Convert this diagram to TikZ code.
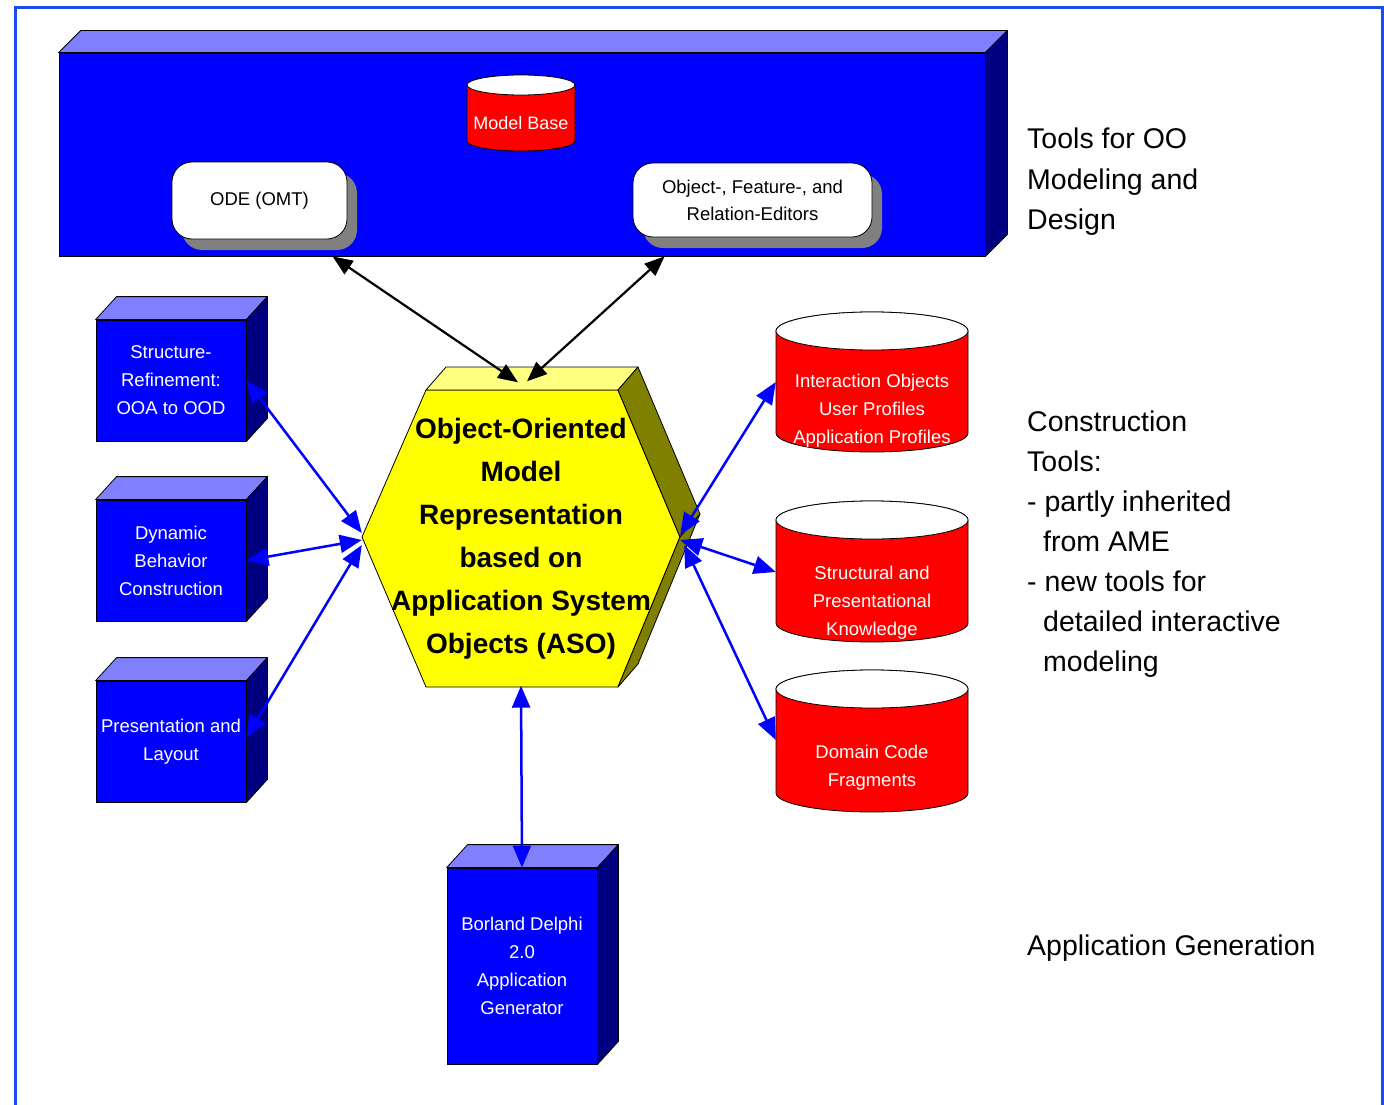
\documentclass[tikz,border=0pt]{standalone}
\usepackage{fontspec}
\setmainfont{Liberation Sans}
\usetikzlibrary{arrows.meta,calc,shadows}
\definecolor{fblue}{RGB}{0,0,255}
\definecolor{lblue}{RGB}{128,128,255}
\definecolor{navy}{RGB}{0,0,128}
\definecolor{fred}{RGB}{255,0,0}
\definecolor{fyellow}{RGB}{255,255,0}
\definecolor{lyellow}{RGB}{255,255,128}
\definecolor{folive}{RGB}{128,128,0}
\definecolor{sgray}{RGB}{128,128,128}
\definecolor{framecol}{RGB}{25,75,240}
\newcommand\boxsides[3]{%
  \filldraw[fill=lblue,line width=0.8pt,line join=round] (#1.north west) -- ++(#2,-#3) -- ($(#1.north east)+(#2,-#3)$) -- (#1.north east) -- cycle;
  \filldraw[fill=navy,line width=0.8pt,line join=round] (#1.north east) -- ++(#2,-#3) -- ($(#1.south east)+(#2,-#3)$) -- (#1.south east) -- cycle;}
\newcommand\cylshape[5]{%
  \filldraw[fill=fred,line width=0.8pt] (#1,#2) -- (#1,#3) arc[start angle=180,end angle=360,x radius=#4pt,y radius=#5pt] -- (#1+2*#4,#2) arc[start angle=0,end angle=180,x radius=#4pt,y radius=#5pt] -- cycle;
  \filldraw[fill=white,line width=0.8pt] (#1+#4,#2) ellipse[x radius=#4pt,y radius=#5pt];}
\begin{document}
\begin{tikzpicture}[x=1pt,y=-1pt,
  edge/.style={draw=black,line width=0.8pt},
  cube/.style={fill=fblue,draw=black,line width=0.8pt,minimum width=150pt,inner sep=0pt,text=white,align=center,font=\fontsize{18.5}{28}\selectfont},
  cyltext/.style={text=white,align=center,minimum width=192pt,inner sep=0pt,font=\fontsize{18.5}{28}\selectfont},
  roundbox/.style={fill=white,draw=black,line width=0.8pt,rounded corners=20pt,inner sep=0pt,align=center,font=\fontsize{18.5}{27}\selectfont,drop shadow={shadow xshift=10pt,shadow yshift=-11pt,fill=sgray,opacity=1}},
  sidetext/.style={anchor=base west,inner sep=0pt,font=\fontsize{28.5}{40}\selectfont},
  barrow/.style={draw=fblue,line width=2.5pt,{Triangle[length=22pt,width=18pt]}-{Triangle[length=22pt,width=18pt]}},
  karrow/.style={draw=black,line width=2.2pt,{Triangle[length=20pt,width=16pt]}-{Triangle[length=20pt,width=16pt]}}]
\clip (0,0) rectangle (1384,1105);
\useasboundingbox (0,0) rectangle (1384,1105);
\fill[white] (0,0) rectangle (1384,1105);
% frame
\draw[framecol,line width=3pt] (15,1120) -- (15,8) -- (1382,8) -- (1382,1120);

% top tools box
\node[fill=fblue,draw=black,line width=0.8pt,minimum width=926pt,minimum height=203pt,inner sep=0pt] (tools) at (522,154.5) {};
\boxsides{tools}{22}{22}
\cylshape{467}{85}{141}{54}{10}
\node[text=white,inner sep=0pt,font=\fontsize{18}{22}\selectfont] (modelbase) at (521,123) {Model Base};
\node[roundbox,minimum width=175pt,minimum height=77pt] (ode) at (259.5,200.5) {ODE (OMT)};
\node[roundbox,minimum width=239pt,minimum height=74pt] (ofr) at (752.5,200) {Object-, Feature-, and\\Relation-Editors};

% left boxes
\node[cube,minimum height=121pt] (struct) at (171,380.5) {Structure-\\Refinement:\\OOA to OOD};
\boxsides{struct}{21}{23}
\node[cube,minimum height=121pt] (dyn) at (171,560.5) {Dynamic\\Behavior\\Construction};
\boxsides{dyn}{21}{23}
\node[cube,minimum height=121pt] (pres) at (171,741.5) {Presentation and\\Layout};
\boxsides{pres}{21}{23}
\node[cube,minimum height=196pt] (borland) at (522,966) {Borland Delphi\\2.0\\Application\\Generator};
\boxsides{borland}{21}{23}

% cylinders
\cylshape{776}{331}{433}{96}{19}
\node[cyltext] (inter) at (872,411) {Interaction Objects\\User Profiles\\Application Profiles};
\cylshape{776}{520}{623}{96}{19}
\node[cyltext] (struk) at (872,603) {Structural and\\Presentational\\Knowledge};
\cylshape{776}{689}{793}{96}{19}
\node[cyltext] (domain) at (872,768) {Domain Code\\Fragments};

% hexagon
\filldraw[fill=fyellow,edge,line join=round] (426,390) -- (618,390) -- (680,537) -- (618,687) -- (426,687) -- (362,537) -- cycle;
\filldraw[fill=lyellow,edge,line join=round] (426,390) -- (446,367) -- (638,367) -- (618,390) -- cycle;
\filldraw[fill=folive,edge,line join=round] (618,390) -- (638,367) -- (700,514) -- (680,537) -- cycle;
\filldraw[fill=folive,edge,line join=round] (680,537) -- (700,514) -- (638,664) -- (618,687) -- cycle;
\node[minimum width=318pt,minimum height=297pt,inner sep=0pt,align=center,font=\fontsize{28}{43}\bfseries\selectfont] (hex) at (521,537) {};
\node[inner sep=0pt,align=center,font=\fontsize{28}{43}\bfseries\selectfont] (hextext) at (521,539) {Object-Oriented\\Model\\Representation\\based on\\Application System\\Objects (ASO)};

% side texts
\node[sidetext] (t1) at (1027,149) {Tools for OO};
\node[sidetext] (t2) at (1027,189) {Modeling and};
\node[sidetext] (t3) at (1027,229) {Design};
\node[sidetext] (c1) at (1027,431) {Construction};
\node[sidetext] (c2) at (1027,471) {Tools:};
\node[sidetext] (c3) at (1027,511) {- partly inherited};
\node[sidetext] (c4) at (1043,551) {from AME};
\node[sidetext] (c5) at (1027,591) {- new tools for};
\node[sidetext] (c6) at (1043,631) {detailed interactive};
\node[sidetext] (c7) at (1043,671) {modeling};
\node[sidetext] (g1) at (1027,955) {Application Generation};

% connectors
\draw[karrow] ([xshift=274pt]tools.south west) -- ([xshift=-3pt,yshift=6pt]hex.north);
\draw[karrow] ([xshift=606pt]tools.south west) -- ([xshift=6pt,yshift=7pt]hex.north);
\draw[barrow] (struct.east) -- ([yshift=4pt]hex.west);
\draw[barrow] (dyn.east) -- ([yshift=-3pt]hex.west);
\draw[barrow] ([yshift=4pt]pres.east) -- ([yshift=-8pt]hex.west);
\draw[barrow] ([yshift=2pt]hex.east) -- ([yshift=29pt]inter.west);
\draw[barrow] ([yshift=-3pt]hex.east) -- ([yshift=31pt]struk.west);
\draw[barrow] ([xshift=4pt,yshift=-8pt]hex.east) -- ([yshift=28pt]domain.west);
\draw[barrow] (hex.south) -- (borland.north);
\end{tikzpicture}
\end{document}
